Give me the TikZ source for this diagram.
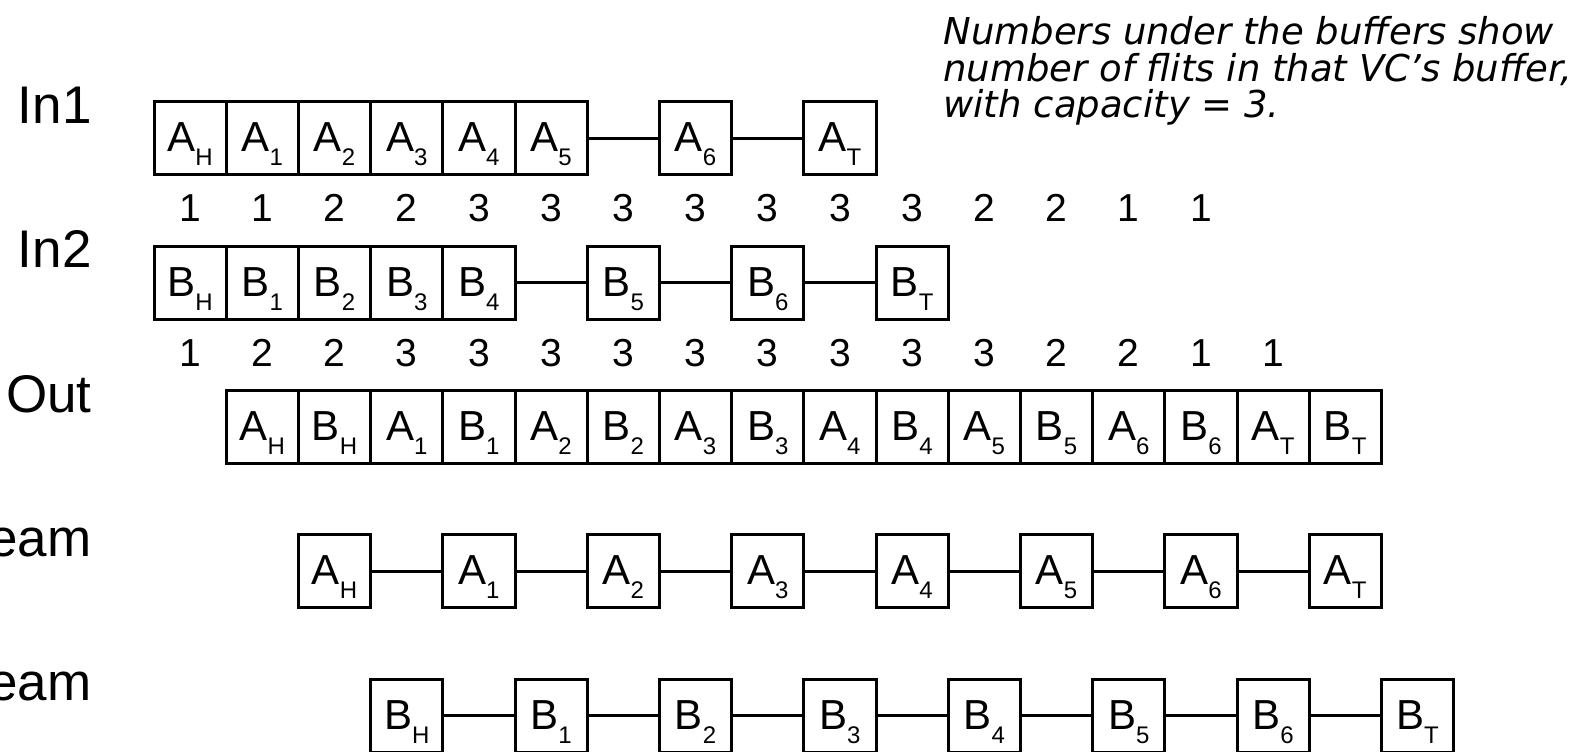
\documentclass[tikz,border=0pt]{standalone}
\usepackage{fontspec}
\setmainfont{Liberation Sans}
\newfontfamily\notefont{DejaVu Sans Oblique}
\usetikzlibrary{positioning}

% flit name with its index set low and small
\newcommand{\flit}[2]{#1\raisebox{-7pt}{\fontsize{12}{12}\selectfont #2}}

\tikzset{
  flitbox/.style={draw, line width=1.5pt, minimum width=36.1pt, minimum height=36.5pt,
    inner sep=0pt, text height=15pt, text depth=1.6pt, font=\fontsize{21}{21}\selectfont},
  count/.style={inner sep=0pt, font=\fontsize{19.5}{19.5}\selectfont},
  rowlabel/.style={anchor=base east, inner sep=0pt, font=\fontsize{26.5}{26.5}\selectfont},
  link/.style={line width=1.4pt}
}

\begin{document}
\begin{tikzpicture}[x=0.5pt, y=-0.5pt]
    \useasboundingbox (0,0) rectangle (1589,751);
    % Row labels
    \node[rowlabel] (lin1) at (92,123.2) {In1};
    \node[rowlabel] (lin2) at (92,267.6) {In2};
    \node[rowlabel] (lout) at (92,412) {Out};
    \node[rowlabel] (lsa) at (92,556.4) {eam};
    \node[rowlabel] (lsb) at (92,700.8) {eam};
    % In1 buffer
    \foreach \s/\i in {0/H,1/1,2/2,3/3,4/4,5/5,7/6,9/T}
        \node[flitbox] (in1-\i) at ({190.1+72.2*\s},138.2) {\flit{A}{\i}};
    \draw[link] (in1-5) -- (in1-6) (in1-6) -- (in1-T);
    % In2 buffer
    \foreach \s/\i in {0/H,1/1,2/2,3/3,4/4,6/5,8/6,10/T}
        \node[flitbox] (in2-\i) at ({190.1+72.2*\s},282.6) {\flit{B}{\i}};
    \draw[link] (in2-4) -- (in2-5) (in2-5) -- (in2-6) (in2-6) -- (in2-T);
    % Buffer occupancy
    \foreach \n [count=\s from 0] in {1,1,2,2,3,3,3,3,3,3,3,2,2,1,1}
        \node[count] (c1-\s) at ({190.1+72.2*\s},208.2) {\n};
    \foreach \n [count=\s from 0] in {1,2,2,3,3,3,3,3,3,3,3,3,2,2,1,1}
        \node[count] (c2-\s) at ({190.1+72.2*\s},352.6) {\n};
    % Output link
    \foreach \f/\i [count=\s] in {A/H,B/H,A/1,B/1,A/2,B/2,A/3,B/3,A/4,B/4,A/5,B/5,A/6,B/6,A/T,B/T}
        \node[flitbox] (out-\s) at ({190.1+72.2*\s},427) {\flit{\f}{\i}};
    % Streams
    \foreach \i [count=\s] in {H,1,2,3,4,5,6,T}
        \node[flitbox] (sa-\i) at ({190.1+72.2*2*\s},571.4) {\flit{A}{\i}};
    \foreach \i [count=\s from 0] in {H,1,2,3,4,5,6,T}
        \node[flitbox] (sb-\i) at ({190.1+72.2*(2*\s+3)},715.8) {\flit{B}{\i}};
    \foreach \a/\b in {H/1,1/2,2/3,3/4,4/5,5/6,6/T} {
        \draw[link] (sa-\a) -- (sa-\b);
        \draw[link] (sb-\a) -- (sb-\b);
    }
    % Note
    \node[anchor=base west, align=left, inner sep=0pt, font=\notefont\fontsize{18.5}{18.25}\selectfont]
        (note) at (943,117.5) {Numbers under the buffers show\\number of flits in that VC’s buffer,\\with capacity = 3.};
\end{tikzpicture}
\end{document}
